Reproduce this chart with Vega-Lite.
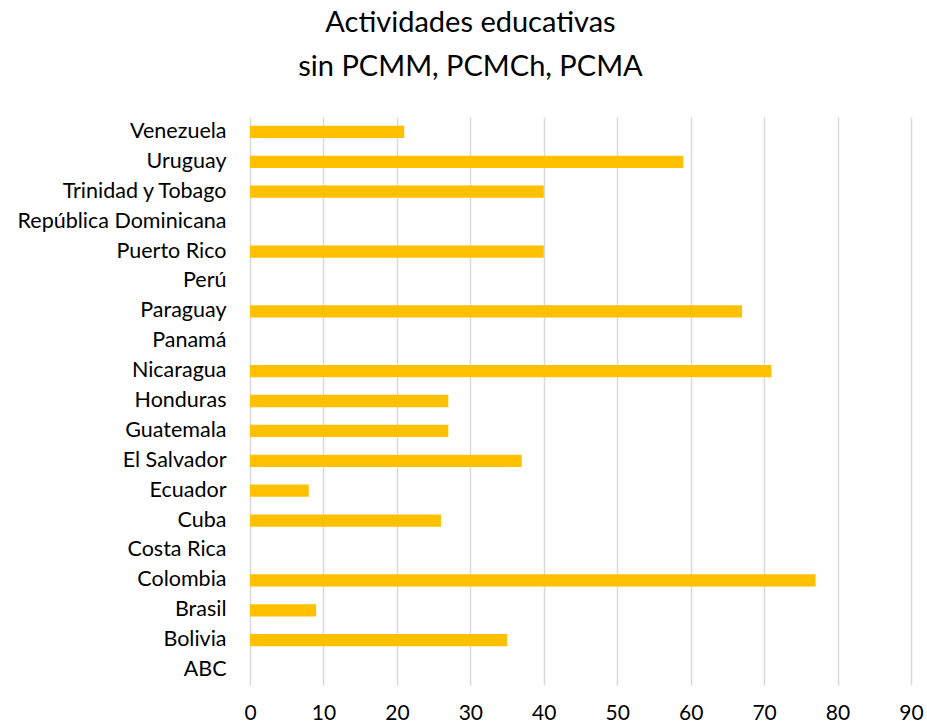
{
  "$schema": "https://vega.github.io/schema/vega-lite/v6.json",
  "width": 661,
  "height": 568,
  "autosize": {"type": "none"},
  "padding": {"left": 250, "top": 117, "right": 16, "bottom": 41},
  "background": "white",
  "title": {
    "text": ["Actividades educativas", "sin PCMM, PCMCh, PCMA"],
    "font": "Lato",
    "fontSize": 29,
    "fontWeight": "normal",
    "color": "#000000",
    "lineHeight": 44,
    "anchor": "middle",
    "frame": "group",
    "dx": -110,
    "offset": 35
  },
  "data": {
    "values": [
      {"pais": "Venezuela", "valor": 21},
      {"pais": "Uruguay", "valor": 59},
      {"pais": "Trinidad y Tobago", "valor": 40},
      {"pais": "República Dominicana", "valor": 0},
      {"pais": "Puerto Rico", "valor": 40},
      {"pais": "Perú", "valor": 0},
      {"pais": "Paraguay", "valor": 67},
      {"pais": "Panamá", "valor": 0},
      {"pais": "Nicaragua", "valor": 71},
      {"pais": "Honduras", "valor": 27},
      {"pais": "Guatemala", "valor": 27},
      {"pais": "El Salvador", "valor": 37},
      {"pais": "Ecuador", "valor": 8},
      {"pais": "Cuba", "valor": 26},
      {"pais": "Costa Rica", "valor": 0},
      {"pais": "Colombia", "valor": 77},
      {"pais": "Brasil", "valor": 9},
      {"pais": "Bolivia", "valor": 35},
      {"pais": "ABC", "valor": 0}
    ]
  },
  "mark": {"type": "bar", "color": "#FFC000"},
  "encoding": {
    "y": {
      "field": "pais",
      "type": "nominal",
      "sort": null,
      "scale": {"paddingInner": 0.59, "paddingOuter": 0.295},
      "axis": {
        "title": null,
        "domain": false,
        "ticks": false,
        "labelFont": "Lato",
        "labelFontSize": 21.5,
        "labelColor": "#000000",
        "labelPadding": 24,
        "labelLimit": 300
      }
    },
    "x": {
      "field": "valor",
      "type": "quantitative",
      "scale": {"domain": [0, 90], "nice": false},
      "axis": {
        "title": null,
        "values": [0, 10, 20, 30, 40, 50, 60, 70, 80, 90],
        "domain": false,
        "ticks": false,
        "grid": true,
        "gridColor": "#d9d9d9",
        "gridWidth": 1.5,
        "labelFont": "Lato",
        "labelFontSize": 21,
        "labelColor": "#000000",
        "labelPadding": 17,
        "labelFlush": false
      }
    }
  },
  "config": {"view": {"stroke": null}}
}
